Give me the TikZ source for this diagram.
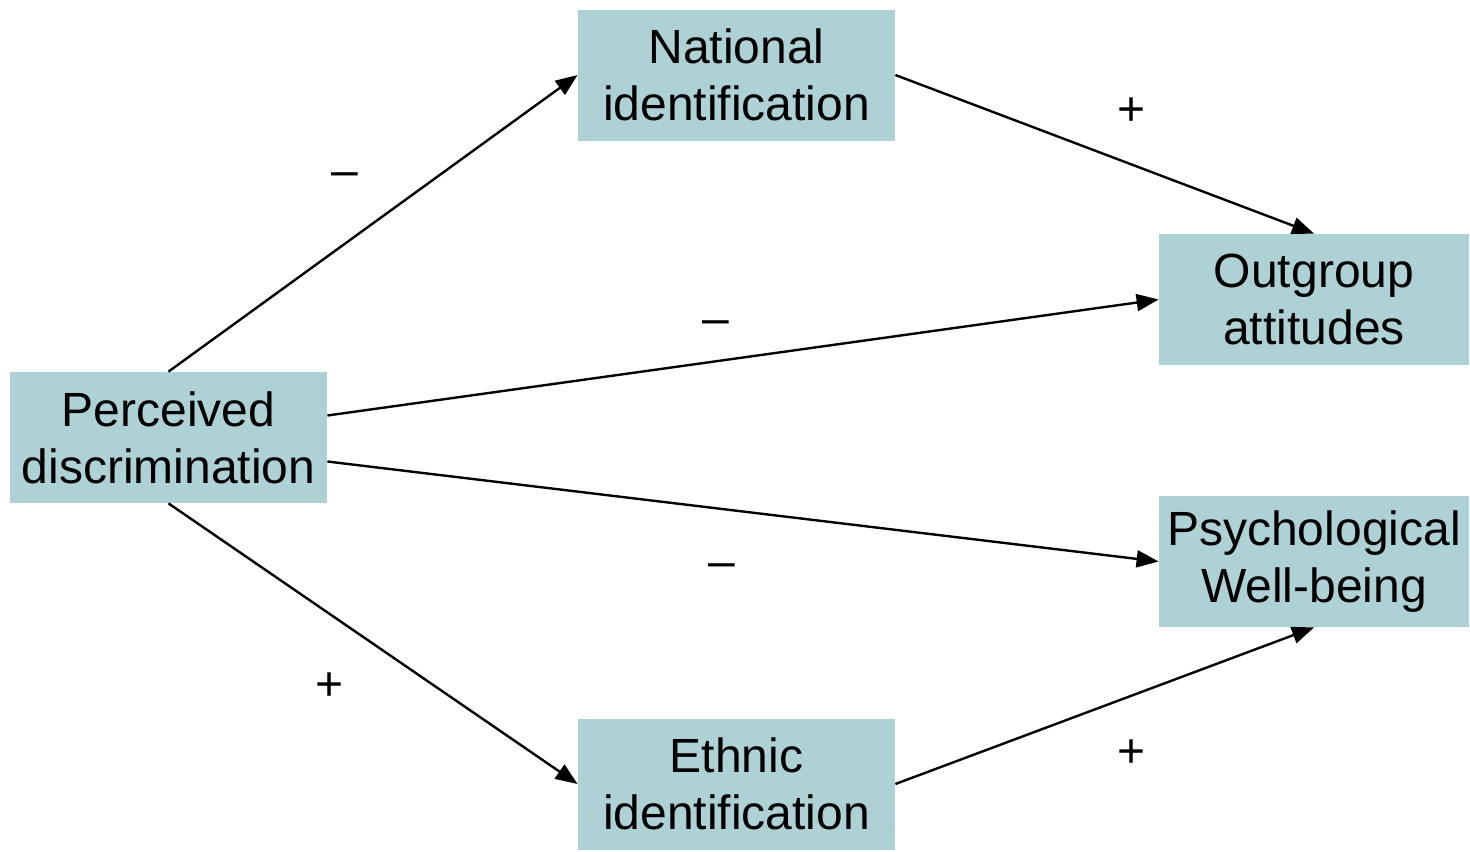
\documentclass[tikz,border=0pt]{standalone}
\usepackage{fontspec}
\setmainfont{Liberation Sans}
\usetikzlibrary{arrows.meta}
\definecolor{boxc}{RGB}{173,209,213}

\begin{document}
\begin{tikzpicture}[x=0.5pt, y=-0.5pt,
	box/.style={fill=boxc, align=center, inner sep=0pt, minimum height=65.5pt,
		font=\fontsize{24pt}{28.5pt}\selectfont},
	sign/.style={font=\fontsize{24pt}{28.5pt}\selectfont, inner sep=0pt},
	link/.style={line width=1.2pt, -{Triangle[length=11pt, width=8.5pt]}}]
					\useasboundingbox (0,0) rectangle (1470,851);
					\node[box, minimum width=158.5pt] (pd) at (168.5,437.5) {Perceived\\discrimination};
					\node[box, minimum width=158.5pt] (ni) at (736.5,75) {National\\identification};
					\node[box, minimum width=158.5pt] (ei) at (736.5,784) {Ethnic\\identification};
					\node[box, minimum width=155pt] (oa) at (1314,299.5) {Outgroup\\attitudes};
					\node[box, minimum width=155pt] (pw) at (1314,561.5) {Psychological\\Well-being};
					
					\draw[link] (pd.north) -- (ni.west);
					\draw[link] (ni.east) -- (oa.north);
					\draw[link] ([yshift=11pt]pd.east) -- (oa.west);
					\draw[link] ([yshift=-12pt]pd.east) -- (pw.west);
					\draw[link] (pd.south) -- (ei.west);
					\draw[link] (ei.east) -- (pw.south);
					
					\node[sign] (s1) at (345,180) {--};
					\node[sign] (s2) at (1131,112) {+};
					\node[sign] (s3) at (716,328) {--};
					\node[sign] (s4) at (722,571) {--};
					\node[sign] (s5) at (330,687) {+};
					\node[sign] (s6) at (1131,754) {+};
\end{tikzpicture}
\end{document}
